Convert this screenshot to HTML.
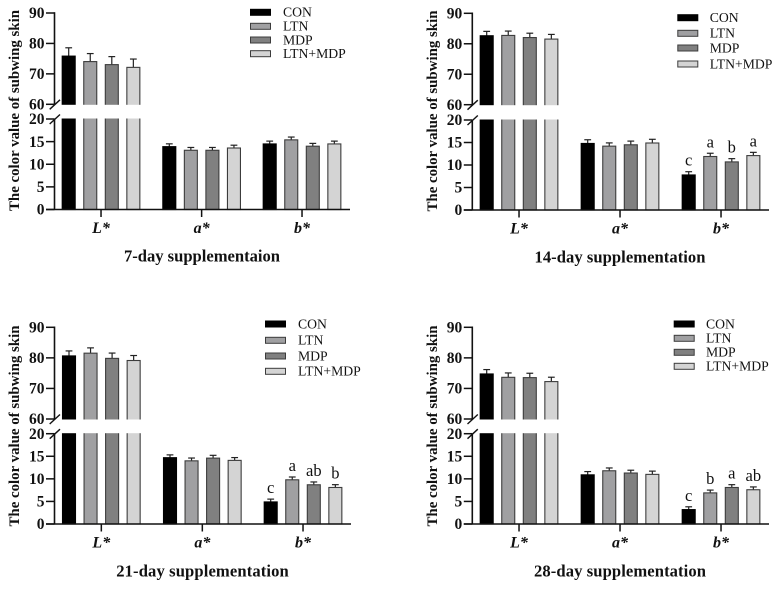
<!DOCTYPE html>
<html>
<head>
<meta charset="utf-8">
<title>Color value of subwing skin</title>
<style>
html,body{margin:0;padding:0;background:#fff}
svg{display:block}
text{font-family:"Liberation Serif",serif;fill:#111}
</style>
</head>
<body>
<svg id="chart" width="781" height="589" viewBox="0 0 781 589" xmlns="http://www.w3.org/2000/svg"></svg>
<script>
const categories = ['L*', 'a*', 'b*'];
const seriesNames = ['CON', 'LTN', 'MDP', 'LTN+MDP'];
const lowerTicks = [0, 5, 10, 15, 20];
const upperTicks = [60, 70, 80, 90];
const yAxisLabel = 'The color value of subwing skin';

const day7Values = [[76, 74.2, 73.2, 72.3], [14, 13.2, 13.2, 13.7], [14.6, 15.5, 14.1, 14.6]];
const day7Errors = [[2.7, 2.6, 2.6, 2.7], [0.6, 0.6, 0.6, 0.6], [0.6, 0.6, 0.6, 0.6]];
const day7Letters = [['', '', '', ''], ['', '', '', ''], ['', '', '', '']];

const day14Values = [[82.8, 82.9, 82.2, 81.7], [14.9, 14.3, 14.6, 15], [7.9, 12, 10.8, 12.2]];
const day14Errors = [[1.4, 1.4, 1.4, 1.5], [0.8, 0.7, 0.8, 0.8], [0.7, 0.7, 0.7, 0.7]];
const day14Letters = [['', '', '', ''], ['', '', '', ''], ['c', 'a', 'b', 'a']];

const day21Values = [[80.8, 81.7, 80, 79.3], [14.8, 14.1, 14.7, 14.2], [5, 9.9, 8.8, 8.2]];
const day21Errors = [[1.6, 1.7, 1.7, 1.6], [0.6, 0.6, 0.6, 0.6], [0.6, 0.6, 0.6, 0.6]];
const day21Letters = [['', '', '', ''], ['', '', '', ''], ['c', 'a', 'ab', 'b']];

const day28Values = [[74.9, 73.8, 73.7, 72.4], [11, 11.9, 11.4, 11.1], [3.3, 7, 8.2, 7.7]];
const day28Errors = [[1.4, 1.4, 1.4, 1.4], [0.7, 0.6, 0.6, 0.7], [0.6, 0.6, 0.6, 0.6]];
const day28Letters = [['', '', '', ''], ['', '', '', ''], ['c', 'b', 'a', 'ab']];

const svg = document.getElementById('chart');
const NS = 'http://www.w3.org/2000/svg';
const fills = ['#000000', '#a0a0a2', '#808080', '#d4d4d4'];
const edge = '#3c3c3c';

function make(tag, attrs, parent, content) {
  const node = document.createElementNS(NS, tag);
  for (const key in attrs) node.setAttribute(key, attrs[key]);
  if (content !== undefined) node.textContent = content;
  parent.appendChild(node);
  return node;
}

function drawPanel(cfg) {
  const g = make('g', {}, svg);
  
  

  const yLow = v => cfg.y0 + (cfg.y20 - cfg.y0) * v / 20;
  const yHigh = v => cfg.y60 + (cfg.y90 - cfg.y60) * (v - 60) / 30;
  const yScale = v => (v > 20 ? yHigh(v) : yLow(v));
  const barX = (c, s) => cfg.groupX[c] + s * 21.55;
  const barW = 14;

  categories.forEach((cat, c) => {
    seriesNames.forEach((name, s) => {
      const value = cfg.values[c][s];
      const err = cfg.errors[c][s];
      const x = barX(c, s);
      const cx = x + barW / 2;
      const top = yScale(value) + 0.5;
      const errTop = yScale(value + err) + 0.4;

      const stem = make('line', { x1: cx, x2: cx, y1: top, y2: errTop, stroke: '#222', 'stroke-width': 1.2 }, g);
      
      
      const cap = make('line', { x1: cx - 3.4, x2: cx + 3.4, y1: errTop, y2: errTop, stroke: '#222', 'stroke-width': 1.2 }, g);
      
      

      const bar = make('rect', { x: x + 0.5, y: top, width: barW - 1, height: cfg.y0 - top, fill: fills[s], stroke: s === 0 ? '#000' : edge, 'stroke-width': 1.1 }, g);
      
      

      const letter = cfg.letters[c][s];
      if (letter) {
        const mark = make('text', { x: cx, y: errTop - 6, 'text-anchor': 'middle', 'font-size': 16.5 }, g, letter);
        
        
      }
    });
  });

  const band = make('rect', { x: cfg.axisX - 6, y: yHigh(60) + 0.5, width: barX(0, 3) + barW - cfg.axisX + 8, height: yLow(20) - yHigh(60) - 1, fill: '#fff' }, g);
  
  

  const upperAxis = make('line', { x1: cfg.axisX, x2: cfg.axisX, y1: yHigh(90) - 0.8, y2: yHigh(60), stroke: '#111', 'stroke-width': 1.6 }, g);
  
  
  const lowerAxis = make('line', { x1: cfg.axisX, x2: cfg.axisX, y1: yLow(20), y2: yLow(0), stroke: '#111', 'stroke-width': 1.6 }, g);
  
  
  const xAxis = make('line', { x1: cfg.axisX - 8.5, x2: cfg.xEnd, y1: cfg.y0, y2: cfg.y0, stroke: '#111', 'stroke-width': 1.6 }, g);
  
  

  [yHigh(60), yLow(20)].forEach(y => {
    const slash = make('line', { x1: cfg.axisX - 4.8, x2: cfg.axisX + 5.5, y1: y + 5, y2: y - 4.5, stroke: '#111', 'stroke-width': 1.4 }, g);
    
    
  });

  const addTick = (label, y) => {
    const tick = make('line', { x1: cfg.axisX - 8.5, x2: cfg.axisX, y1: y, y2: y, stroke: '#111', 'stroke-width': 1.5 }, g);
    
    
    const text = make('text', { x: cfg.axisX - 10, y: y + 5.2, 'text-anchor': 'end', 'font-size': 15.5, 'font-weight': 'bold' }, g, label);
    
    
  };
  upperTicks.forEach(v => addTick(v, yHigh(v)));
  lowerTicks.forEach(v => addTick(v, yLow(v)));

  categories.forEach((cat, c) => {
    const cx = barX(c, 1.5) + barW / 2;
    const tick = make('line', { x1: cx, x2: cx, y1: cfg.y0, y2: cfg.y0 + 7.5, stroke: '#111', 'stroke-width': 1.5 }, g);
    
    
    const text = make('text', { x: cx, y: cfg.y0 + 23.3, 'text-anchor': 'middle', 'font-size': 16, 'font-weight': 'bold', 'font-style': 'italic' }, g, cat);
    
    
  });

  const yTitle = make('text', { transform: 'translate(' + cfg.yTitleX + ',' + cfg.yTitleMid + ') rotate(-90)', 'text-anchor': 'middle', 'font-size': 14.9, 'font-weight': 'bold', textLength: 201, lengthAdjust: 'spacing' }, g, yAxisLabel);
  
  

  const title = make('text', { x: cfg.titleX, y: cfg.titleY, 'text-anchor': 'middle', 'font-size': 16.6, 'font-weight': 'bold', textLength: cfg.titleW, lengthAdjust: 'spacing' }, g, cfg.title);
  
  

  seriesNames.forEach((name, s) => {
    const ly = cfg.legendY[s];
    const swatch = make('rect', { x: cfg.legendX + 0.5, y: ly - 3, width: 20, height: 6, fill: fills[s], stroke: s === 0 ? '#000' : edge, 'stroke-width': 1 }, g);
    
    
    const text = make('text', { x: cfg.legendTextX, y: ly + 4.3, 'font-size': 13.7 }, g, name);
    
    
  });
}

drawPanel({ id: 'day-7', title: '7-day supplementaion', values: day7Values, errors: day7Errors, letters: day7Letters,
  axisX: 54.5, xEnd: 350, y0: 209.5, y20: 119, y60: 104.3, y90: 13, groupX: [61.7, 162.3, 262.7],
  yTitleX: 19, yTitleMid: 110.5, titleX: 202, titleY: 261.5, titleW: 156,
  legendX: 250, legendTextX: 283, legendY: [12.3, 26.3, 40, 53.7] });

drawPanel({ id: 'day-14', title: '14-day supplementation', values: day14Values, errors: day14Errors, letters: day14Letters,
  axisX: 472.3, xEnd: 769, y0: 210, y20: 120, y60: 104.7, y90: 13.3, groupX: [479.7, 580.7, 681.7],
  yTitleX: 437, yTitleMid: 111, titleX: 620, titleY: 262.5, titleW: 171,
  legendX: 677.3, legendTextX: 709.7, legendY: [17.7, 33.3, 48, 64] });

drawPanel({ id: 'day-21', title: '21-day supplementation', values: day21Values, errors: day21Errors, letters: day21Letters,
  axisX: 54.5, xEnd: 351, y0: 524, y20: 433.7, y60: 419, y90: 327.3, groupX: [62, 163, 263.7],
  yTitleX: 19, yTitleMid: 426, titleX: 202.5, titleY: 576.5, titleW: 172.5,
  legendX: 265, legendTextX: 298, legendY: [324, 340.3, 356, 371.3] });

drawPanel({ id: 'day-28', title: '28-day supplementation', values: day28Values, errors: day28Errors, letters: day28Letters,
  axisX: 472.3, xEnd: 769, y0: 524, y20: 433.7, y60: 419, y90: 327.3, groupX: [479.7, 580.7, 681.7],
  yTitleX: 437, yTitleMid: 426, titleX: 620, titleY: 576.5, titleW: 172,
  legendX: 673.7, legendTextX: 706, legendY: [324, 338.3, 352.3, 366.3] });
</script>
</body>
</html>
